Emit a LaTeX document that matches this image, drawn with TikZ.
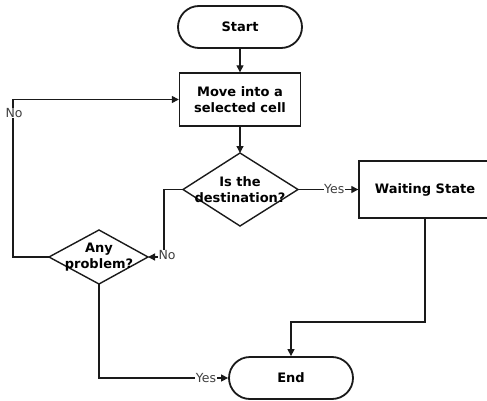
\documentclass[tikz,border=0pt]{standalone}
\usepackage{fontspec}
\setmainfont{DejaVu Sans}
\usetikzlibrary{shapes.geometric,shapes.misc,arrows.meta}
\definecolor{ln}{HTML}{1A1A1A}
\definecolor{lbl}{HTML}{404040}
\tikzset{
  bfont/.style={font=\bfseries\fontsize{13}{15.5}\selectfont},
  term/.style={draw=ln, line width=1.8pt, rounded rectangle, minimum width=124pt, minimum height=42pt, bfont, inner sep=0pt},
  proc/.style={draw=ln, line width=1.4pt, rectangle, bfont, align=center, inner sep=0pt},
  decshape/.style={draw=ln, line width=1.4pt},
  dectext/.style={bfont, align=center},
  conn/.style={draw=ln, line width=1.3pt, -{Triangle[length=7pt,width=7pt]}},
  lab/.style={font=\fontsize{12.5}{14}\selectfont, text=lbl, fill=white, inner sep=0.5pt}
}
\begin{document}
\begin{tikzpicture}[x=1pt,y=-1pt]
\useasboundingbox[fill=white] (0,0) rectangle (487,401);
\node[term] (start) at (240,27) {Start};
\node[proc, minimum width=121pt, minimum height=53pt] (move) at (240,99.5) {Move into a\\selected cell};
\coordinate (destW) at (183,189.5);
\coordinate (destE) at (298,189.5);
\coordinate (destN) at (240,153);
\coordinate (destS) at (240,226);
\path[decshape] (destW) -- (destN) -- (destE) -- (destS) -- cycle;
\node[dectext] (destT) at (240,189.5) {Is the\\destination?};
\node[proc, minimum width=132pt, minimum height=57pt] (wait) at (425,189.5) {Waiting State};
\coordinate (anyW) at (49,257);
\coordinate (anyE) at (148,257);
\coordinate (anyN) at (99,230);
\coordinate (anyS) at (99,284);
\path[decshape] (anyW) -- (anyN) -- (anyE) -- (anyS) -- cycle;
\node[dectext] (anyT) at (99,257) {Any\\problem?};
\node[term] (end) at (291,378) {End};
\coordinate (bend) at (291,322);
% connectors
\draw[conn] (start.south) -- (move.north);
\draw[conn] (move.south) -- (destN);
\draw[conn] (destE) -- (wait.west) node[lab, pos=0.6] {Yes};
\draw[conn] (destW) -- (164,189.5) -- (164,257) -- (anyE);
\node[lab] (no1) at (167,255) {No};
\draw[conn] (anyW) -- (13,257) -- (13,99.5) -- (move.west);
\node[lab] (no2) at (14,113) {No};
\draw[conn] (anyS) |- (end.west);
\node[lab] (yes2) at (206,378) {Yes};
\draw[conn] (wait.south) |- (bend) -- (end.north);
\end{tikzpicture}
\end{document}
